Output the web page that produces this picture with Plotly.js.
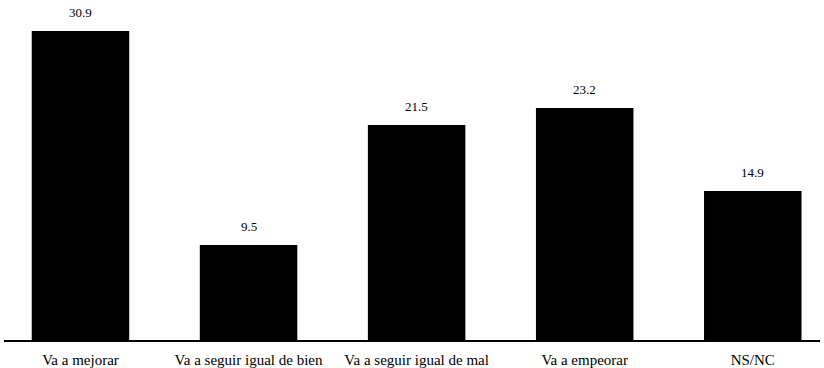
<!DOCTYPE html>
<html>
<head>
<meta charset="utf-8">
<script src="https://cdn.plot.ly/plotly-3.0.1.min.js"></script>
<style>html,body{margin:0;padding:0;background:#fff;}#chart{width:824px;height:368px;}</style>
</head>
<body>
<div id="chart"></div>
<script>
const categories = ["Va a mejorar", "Va a seguir igual de bien", "Va a seguir igual de mal", "Va a empeorar", "NS/NC"];
const values = [30.9, 9.5, 21.5, 23.2, 14.9];
const valueLabels = ["30.9", "9.5", "21.5", "23.2", "14.9"];

const xIdx = categories.map((c, i) => i);

const trace = {
  type: "bar",
  x: xIdx,
  y: values,
  marker: {color: "#000000"},
  hoverinfo: "skip",
  showlegend: false
};

const annotations = values.map((v, i) => ({
  x: i, y: v, xref: "x", yref: "y",
  text: valueLabels[i],
  showarrow: false,
  yanchor: "bottom",
  yshift: 9,
  font: {family: "Liberation Serif", size: 13, color: "#000000"}
}));

const layout = {
  width: 824, height: 368,
  margin: {l: 4, r: 4, t: 0, b: 28},
  paper_bgcolor: "#ffffff", plot_bgcolor: "#ffffff",
  bargap: 0.42,
  xaxis: {
    range: [-0.455, 4.40],
    tickmode: "array", tickvals: xIdx, ticktext: categories,
    showgrid: false, zeroline: false,
    showline: true, linecolor: "#000000", linewidth: 1.5,
    ticks: "outside", ticklen: 5, tickcolor: "rgba(0,0,0,0)",
    tickfont: {family: "Liberation Serif", size: 15, color: "#000000"}
  },
  yaxis: {
    range: [0, 34],
    visible: false, showgrid: false, zeroline: false
  },
  annotations: annotations
};

Plotly.newPlot("chart", [trace], layout, {staticPlot: true, displayModeBar: false});
</script>
</body>
</html>
